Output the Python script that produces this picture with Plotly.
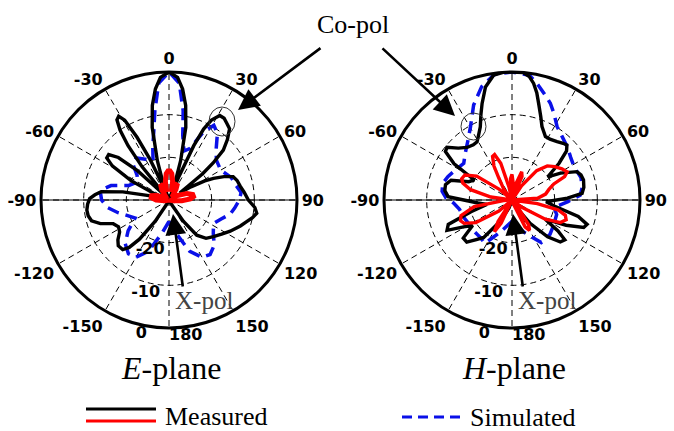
import plotly.graph_objects as go

W, H = 674, 431

# ---------------- data (theta in degrees, r in dB) ----------------
angle_ticks = [0, 30, 60, 90, 120, 150, 180, 210, 240, 270, 300, 330]
angle_text = ["0", "30", "60", "90", "120", "150", "",
              "-150", "-120", "-90", "-60", "-30"]
r_range = [-30, 0]
r_ticks = [-20, -10, 0]
# radial tick labels (drawn as text at tick radii) plus the 180 angle label
scale_label_theta = [186, 186, 190, 180]
scale_label_r = [-20, -10, 0, 0]
scale_label_text = ["-20", "-10", "0", "180"]
scale_label_pos = ["bottom left", "bottom left", "bottom left", "bottom right"]

# E-plane, measured co-pol
e_meas_theta = [-180, -165, -152, -147, -143, -140, -137, -132, -128, -123, -118, -113, -109,
                -105, -101, -97, -93, -89, -86, -83, -80, -77, -73, -68, -63, -59, -56, -53,
                -50, -47, -44, -41, -39, -37, -35, -33, -31, -29, -27, -25, -23, -21.5, -19.5,
                -16.5, -13, -10, -7, -4, 0, 4, 7, 10, 13, 16.5, 19.5, 21.5, 23, 24.5, 26, 28,
                31, 34, 37, 40.4, 44, 47.4, 50, 52, 54, 56.5, 59, 62, 64, 67, 70, 74, 79, 84,
                90, 95, 98.6, 102, 105.6, 110, 117, 123, 129.6, 136, 141.7, 146, 151, 160, 180]
e_meas_r = [-30, -30, -29, -24, -18.5, -15.5, -14.1, -14, -14.8, -16.2, -16.6, -15.8, -13,
            -11.2, -10.7, -10.6, -10.9, -11.4, -12.6, -14, -19, -26, -30, -27, -20, -14.5, -12.4, -12.3,
            -14.5, -20, -28, -30, -20, -14, -10, -7.6, -7.1, -8.6, -13.5, -19.5, -26, -30, -26,
            -20.4, -12.5, -7.5, -3.8, -1.2, 0, -1.2, -3.8, -7.5, -12.5, -20.4, -26, -30, -24, -16, -11.5, -8.8,
            -6.9, -6.9, -7.5, -8.1, -10.3, -12.7, -16.5, -20, -24.8, -27, -24, -20.5, -18.4, -16, -14, -13.4, -13, -12.3,
            -11.4, -9.8, -9.2, -10, -11.1, -12.2, -13.9, -15.3, -16.5, -17.5, -19.5, -24, -29, -30, -30]

# E-plane, measured cross-pol
e_x_theta = [-180, -120, -100, -90, -82, -76, -70, -60, -45, -35, -28, -22, -16, -11, -6, -2, 0,
             2, 6, 11, 16, 22, 27, 33, 45, 60, 70, 77, 82, 87, 93, 100, 120, 180]
e_x_r = [-30, -30, -29, -27, -25.8, -25.8, -27, -29, -29, -27, -25.8, -26.5, -28, -25.5, -23.8, -23.2, -23.2,
         -23.2, -23.8, -25.5, -28, -26.5, -25.6, -27, -29, -28, -25.5, -24.3, -24.2, -25, -27, -29, -30, -30]

# E-plane, simulated
e_sim_theta = [-180, -168, -158, -150, -143, -135, -127, -118, -110, -104, -97, -90, -82, -76, -70,
               -60, -52, -45, -38, -30, -22, -17, -12, -9, -5, 0, 5, 9, 12, 17, 22, 27, 31, 36,
               43, 50, 60, 70, 77, 84, 90, 97, 103, 110, 118, 127, 135, 143, 150, 158, 168, 180]
e_sim_r = [-25, -22, -17, -14.5, -14.2, -15.5, -18, -21, -19.5, -17.7, -15.5, -14.2, -13.7, -16, -20,
           -21.5, -20.5, -18, -17.5, -19, -20, -17, -13, -8.8, -2.5, 0, -2.5, -8.8, -14.5, -18, -17, -12, -9.6, -10.7,
           -13.8, -15.5, -16, -14.5, -14, -13, -13.5, -14.5, -15.3, -17, -18.2, -17, -15, -14, -14.5, -17, -22, -25]

# H-plane, measured co-pol
h_meas_theta = [-180, -160, -150, -143, -138, -133, -128, -123, -119, -115, -111, -106, -100, -95,
                -90, -87, -82, -77, -72, -67, -62, -58, -54, -51, -46, -40.5, -35, -31, -27, -23.4,
                -20, -17.2, -13.2, -8.3, -4, 0, 5, 8, 10.5, 13, 15.4, 19, 22.2, 27.8, 32, 37.6, 42,
                45, 48, 52, 57, 61, 66.4, 70, 74.4, 80, 84.6, 88, 93, 98, 104, 108, 111, 115, 120,
                124, 127, 131, 136, 142, 150, 165, 180]
h_meas_r = [-30, -28, -24, -19, -17.5, -15.5, -15.5, -19, -17, -13.2, -14, -20, -24, -22,
            -18.7, -15, -14.1, -14, -15, -19, -20, -14, -10.7, -10.4, -12.5, -13.8, -14.2, -14.1, -12.8, -11.3,
            -8.7, -6.3, -2.8, -0.4, 0, 0, 0, -0.8, -2.2, -4.2, -6.5, -9.3, -11.4, -13.2, -13.2, -12.7, -12.1,
            -11.8, -12.8, -16, -20, -17, -13.4, -12.8, -12.6, -12.9, -13.5, -17, -22, -20, -14, -11.5, -12, -16, -21,
            -17, -14.5, -15, -18, -23, -28, -30, -30]

# H-plane, measured cross-pol
h_x_theta = [-180, -162, -155, -151, -147, -140, -130, -122, -116, -112, -107, -100, -94, -88,
             -82, -76, -71, -67, -62, -56, -50, -44, -38, -31, -28, -24, -21, -17, -13, -9, -4,
             0, 4, 9, 14, 19, 23, 28, 34, 40, 46, 52, 58, 63, 66, 69, 74, 80, 86, 92, 98, 102,
             106, 110, 115, 120, 126, 132, 140, 146, 150, 154, 160, 170, 180]
h_x_r = [-30, -30, -24, -21.5, -24, -30, -26, -20, -17.5, -17, -17.5, -21, -28, -30,
         -25, -20, -17.8, -17.2, -17.5, -20, -26, -30, -27, -24, -21, -18.8, -18.6, -21, -27, -30, -25,
         -24, -26, -30, -26, -23, -24, -30, -26, -21, -18.5, -17.3, -16.2, -15.5, -16.5, -19.5, -21, -22, -24, -30, -24, -19,
         -17, -16.5, -17.5, -21, -27, -30, -28, -23, -21.8, -23, -29, -30, -30]

# H-plane, simulated
h_sim_theta = [-180, -160, -148, -140, -130, -120, -110, -100, -93, -88, -83, -76.5, -70, -62,
               -52.8, -45, -36, -29.6, -22, -15, -8, 0, 8, 12, 17, 21.6, 26, 31.5, 38, 46, 54,
               62, 72, 80, 86, 92, 100, 108, 121, 132, 145.5, 160, 180]
h_sim_r = [-25, -22, -18, -18.5, -18.5, -18.5, -18, -17.5, -16.3, -14.5, -13.5, -13.3, -14, -15,
           -15.8, -14.5, -12.5, -10.3, -6, -2.5, -0.3, 0, -0.5, -2, -4, -5.6, -7.5, -9.8, -11, -12, -13,
           -13.5, -13, -13.3, -14, -17, -20, -19, -18.6, -18, -17.9, -22, -25]

BLACK = "#000000"
RED = "#ff0000"
BLUE = "#0a10e8"


def px(x):
    return x / W


def py(y):
    return 1 - y / H


fig = go.Figure()
tickfont = dict(family="DejaVu Sans", size=16, color=BLACK, weight="bold")


def add_plane(sub, meas_t, meas_r, x_t, x_r, sim_t, sim_r, red_w):
    # solid horizontal (-90/90) line
    fig.add_trace(go.Scatterpolar(theta=[90, 90, 270], r=[0, -30, 0], mode="lines",
                                  line=dict(color=BLACK, width=1.2), subplot=sub,
                                  showlegend=False, hoverinfo="skip"))
    fig.add_trace(go.Scatterpolar(theta=sim_t, r=sim_r, mode="lines",
                                  line=dict(color=BLUE, width=3.5, dash="12px,7px"),
                                  subplot=sub, showlegend=False))
    fig.add_trace(go.Scatterpolar(theta=meas_t, r=meas_r, mode="lines",
                                  line=dict(color=BLACK, width=3.4), subplot=sub, showlegend=False))
    fig.add_trace(go.Scatterpolar(theta=x_t, r=x_r, mode="lines",
                                  line=dict(color=RED, width=red_w), subplot=sub, showlegend=False))
    fig.add_trace(go.Scatterpolar(theta=scale_label_theta, r=scale_label_r, text=scale_label_text,
                                  mode="text", textposition=scale_label_pos, textfont=tickfont,
                                  cliponaxis=False, subplot=sub, showlegend=False,
                                  hoverinfo="skip"))


add_plane("polar", e_meas_theta, e_meas_r, e_x_theta, e_x_r, e_sim_theta, e_sim_r, 5)
add_plane("polar2", h_meas_theta, h_meas_r, h_x_theta, h_x_r, h_sim_theta, h_sim_r, 3.4)


def polar_layout(x0, x1):
    return dict(
        domain=dict(x=[px(x0), px(x1)], y=[py(328), py(72)]),
        bgcolor="white",
        angularaxis=dict(rotation=90, direction="clockwise", tickmode="array",
                         tickvals=angle_ticks, ticktext=angle_text, tickfont=tickfont,
                         showline=True, linecolor=BLACK, linewidth=3, ticks="",
                         showgrid=True, gridcolor=BLACK, gridwidth=1, griddash="6px,4px"),
        radialaxis=dict(range=r_range, tickmode="array", tickvals=r_ticks,
                        showticklabels=False, showline=False, ticks="", showgrid=True,
                        gridcolor=BLACK, gridwidth=1, griddash="6px,4px"),
    )


serif = "Liberation Serif"


def label(x, y, text, size, color=BLACK, xanchor="center"):
    return dict(x=px(x), y=py(y), xref="paper", yref="paper", showarrow=False,
                xanchor=xanchor, yanchor="middle", text=text,
                font=dict(family=serif, size=size, color=color))


annotations = [
    label(171, 368, "<i>E</i>-plane", 32),
    label(514, 368, "<i>H</i>-plane", 32),
    label(353, 24, "Co-pol", 26),
    label(204, 300, "X-pol", 25, "#444444"),
    label(547, 300, "X-pol", 25, "#444444"),
    label(163, 416, "Measured", 26, xanchor="left"),
    label(468, 417, "Simulated", 26, xanchor="left"),
]
arrows = [((238, 110), (322, 47)), ((455, 116), (381, 47)),
          ((173, 214), (183, 288)), ((513, 214), (523, 288))]
for (hx, hy), (tx, ty) in arrows:
    annotations.append(dict(x=px(hx), y=py(hy), xref="paper", yref="paper", text="",
                            showarrow=True, ax=tx - hx, ay=ty - hy, arrowhead=2,
                            arrowsize=1.6, arrowwidth=2.6, arrowcolor=BLACK))

shapes = [
    dict(type="line", xref="paper", yref="paper", x0=px(86), x1=px(156), y0=py(409), y1=py(409),
         line=dict(color=BLACK, width=3)),
    dict(type="line", xref="paper", yref="paper", x0=px(86), x1=px(156), y0=py(421), y1=py(421),
         line=dict(color=RED, width=3)),
    dict(type="line", xref="paper", yref="paper", x0=px(402), x1=px(462), y0=py(417), y1=py(417),
         line=dict(color=BLUE, width=3, dash="10px,6px")),
    dict(type="circle", xref="paper", yref="paper", x0=px(209), x1=px(235), y0=py(136), y1=py(107),
         line=dict(color="#333333", width=1)),
    dict(type="circle", xref="paper", yref="paper", x0=px(461), x1=px(486), y0=py(140), y1=py(113),
         line=dict(color="#333333", width=1)),
]

fig.update_layout(
    width=W, height=H, margin=dict(l=0, r=0, t=0, b=0),
    paper_bgcolor="white", showlegend=False,
    polar=polar_layout(41, 297), polar2=polar_layout(384, 640),
    annotations=annotations, shapes=shapes,
)

fig.write_html("out.html", config={"displayModeBar": False},
               post_script="document.body.style.margin='0';document.body.style.overflow='hidden';")
